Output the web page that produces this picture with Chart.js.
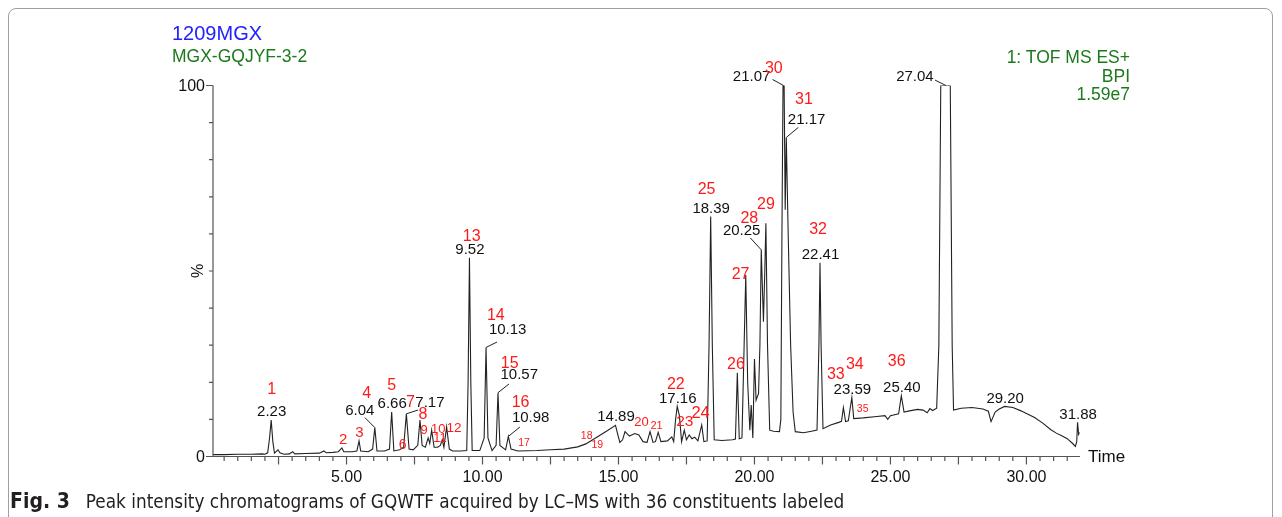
<!DOCTYPE html>
<html>
<head>
<meta charset="utf-8">
<script src="https://cdn.jsdelivr.net/npm/chart.js@4.4.1/dist/chart.umd.min.js"></script>
<style>
  html, body { margin: 0; padding: 0; background: #fff; }
  #wrap { position: relative; width: 1282px; height: 517px; overflow: hidden; font-family: "Liberation Sans", Arial, sans-serif; }
  #frame { position: absolute; left: 8px; top: 8px; width: 1265px; height: 540px; border: 1px solid #a0a0a0; border-radius: 8px; box-sizing: border-box; }
  #myChart { position: absolute; left: 0; top: 0; }
  .hd { position: absolute; line-height: 1; white-space: nowrap; }
  #caption { position: absolute; left: 10px; top: 490px; font-family: "DejaVu Sans Condensed", "Liberation Sans Narrow", sans-serif; line-height: 22px; color: #231f20; white-space: nowrap; }
  #caption b { font-size: 21px; font-weight: bold; }
  #caption span { font-size: 18.8px; margin-left: 16px; }
</style>
</head>
<body>
<div id="wrap">
  <div id="frame"></div>
  <canvas id="myChart" width="1282" height="517"></canvas>
  <div class="hd" style="left:172px;top:23px;font-size:20px;color:#2222ff;">1209MGX</div>
  <div class="hd" style="left:172px;top:48px;font-size:17.5px;color:#1c7a1c;">MGX-GQJYF-3-2</div>
  <div class="hd" style="right:152px;top:48.5px;font-size:17.5px;color:#1c7a1c;text-align:right;">1: TOF MS ES+</div>
  <div class="hd" style="right:152px;top:68px;font-size:17.5px;color:#1c7a1c;text-align:right;">BPI</div>
  <div class="hd" style="right:152px;top:86px;font-size:17.5px;color:#1c7a1c;text-align:right;">1.59e7</div>
  <div id="caption"><b>Fig. 3</b><span>Peak intensity chromatograms of GQWTF acquired by LC–MS with 36 constituents labeled</span></div>
</div>
<script>
// retention time (min) and base peak intensity (%)
var rt = [
  0.09, 0.5, 1.0, 1.5, 1.9, 2.0, 2.1, 2.17, 2.23, 2.29, 2.35, 2.48, 2.55, 2.7, 2.9,
  3.02, 3.1, 3.5, 4.0, 4.17, 4.25, 4.5, 4.7, 4.83, 4.9, 5.2, 5.38, 5.46, 5.52, 5.8,
  5.96, 6.04, 6.12, 6.4, 6.58, 6.66, 6.74, 6.95, 7.1, 7.2, 7.3, 7.45,
  7.62, 7.7, 7.78, 7.9, 8.0, 8.06, 8.13, 8.22, 8.35, 8.45, 8.52, 8.58, 8.68, 8.78, 8.9,
  9.2, 9.42, 9.47, 9.52, 9.57, 9.62, 9.9, 10.06, 10.13, 10.2, 10.35, 10.5, 10.57, 10.64, 10.85, 10.95, 11.05, 11.3,
  12.0, 12.5, 13.0, 13.5, 13.8, 14.2, 14.6, 14.89, 14.97, 15.05, 15.15, 15.24, 15.4, 15.6, 15.75, 15.9, 16.05,
  16.16, 16.27, 16.36, 16.46, 16.56, 16.8, 16.96, 17.03, 17.1, 17.16, 17.24, 17.32, 17.42, 17.5, 17.6, 17.7, 17.8, 17.92, 18.06, 18.14, 18.26,
  18.33, 18.39, 18.45, 18.52, 18.8, 19.2, 19.3, 19.37, 19.44, 19.54, 19.62, 19.68, 19.75, 19.83, 19.88, 19.94, 20.0, 20.06, 20.15, 20.2, 20.25, 20.33, 20.38, 20.42, 20.48, 20.56, 20.7,
  20.92, 20.97, 21.01, 21.05, 21.07, 21.09, 21.13, 21.17, 21.24, 21.33, 21.42, 21.5, 21.8, 22.1, 22.3, 22.37, 22.41, 22.45, 22.52,
  22.8, 23.1, 23.2, 23.27, 23.35, 23.45, 23.58, 23.65, 24.0, 24.5, 24.8, 24.9, 25.0, 25.3, 25.4, 25.5, 25.7, 26.0, 26.2, 26.35, 26.45, 26.55, 26.7,
  26.78, 26.85, 27.04, 27.2, 27.27, 27.32, 27.6, 28.0, 28.4, 28.6, 28.7, 28.85, 29.0, 29.2, 29.5, 29.8, 30.0, 30.3, 30.6, 30.9, 31.1, 31.3, 31.5, 31.7, 31.8, 31.85, 31.88, 31.92, 31.95
];
var bpi = [
  0.5, 0.5, 0.6, 0.6, 0.7, 0.6, 1.0, 5.0, 9.8, 4.0, 0.9, 1.8, 1.0, 0.6, 0.7,
  1.3, 0.7, 0.8, 0.9, 1.5, 1.0, 1.1, 1.3, 2.3, 1.3, 1.3, 1.5, 4.2, 1.5, 1.3,
  2.0, 7.8, 1.5, 1.5, 2.0, 12.0, 1.5, 1.8, 2.5, 11.5, 2.0, 1.8,
  3.0, 9.8, 3.0, 2.5, 5.0, 3.5, 7.1, 2.5, 2.5, 3.0, 4.5, 2.5, 8.0, 2.0, 1.5,
  1.5, 1.6, 20, 53.6, 20, 1.6, 1.6, 5, 29.4, 5, 1.6, 3, 17.2, 3, 1.8, 5.4, 2.0, 1.5,
  1.6, 1.8, 2.0, 2.6, 3.4, 5.2, 7.0, 8.4, 6.0, 3.8, 4.5, 6.7, 5.5, 6.2, 5.8, 4.0, 3.8,
  6.7, 3.8, 4.0, 6.5, 4.0, 4.2, 5.3, 4.0, 10, 13.5, 11, 4, 7.1, 4.5, 5.8, 4.8, 5.2, 4.2, 8.5, 4.0, 4.2,
  30, 64.7, 30, 4.5, 4.3, 4.5, 4.7, 22.6, 4.8, 5.0, 30, 48.9, 20, 7.1, 13.9, 5.0, 26.3, 15.2, 17, 30, 55.7, 36.3, 50, 62.9, 30, 7.1, 6.8,
  6.7, 10, 60, 100, 100, 100, 66.5, 86, 60, 30, 12, 6.7, 6.4, 6.8, 7.1, 30, 52.2, 30, 7.5,
  8.5, 9.2, 9.5, 13.2, 9.4, 9.6, 15.9, 10.2, 10.4, 10.8, 11.0, 10.0, 11.0, 11.5, 16.4, 12.0, 12.3, 12.7, 12.5, 11.8, 12.9, 12.4, 13.0,
  30, 100, 100, 100, 30, 12.5, 13, 13.2, 12.8, 12.2, 9.4, 12, 12.8, 13.5, 13.2, 12.3, 11.6, 10.5, 9.0, 7.2, 6.3, 5.6, 4.8, 3.5, 2.7, 4.0, 9.2, 6.0, 6.5
];

// peak retention times printed on the trace
var peakTimes = ['2.23', '6.04', '6.66', '7.17', '9.52', '10.13', '10.57', '10.98', '14.89', '17.16',
  '18.39', '20.25', '21.07', '21.17', '22.41', '23.59', '25.40', '27.04', '29.20', '31.88'];

// constituent numbers 1..36
var peakNumbers = [];
for (var n = 1; n <= 36; n++) peakNumbers.push(String(n));

var yTicks = [0, 100];
var xLabelTimes = [5, 10, 15, 20, 25, 30];

// ---- layout only (pixel offsets, where each label sits) ----
var timeLabelLayout = {
  '6.04': { dx: -15, dy: -17, lx: -10, ly: -10 },
  '7.17': { dx: 23.6, dy: -10.8, lx: 11.6, ly: -3.8 },
  '10.13': { dx: 21.6, dy: -17.4, lx: 11, ly: -5.4 },
  '10.57': { dx: 21.2, dy: -17.7, lx: 11, ly: -8.7 },
  '10.98': { dx: 22.3, dy: -18.2, lx: 11.6, ly: -9.5 },
  '20.25': { dx: -19.6, dy: -19, lx: -11, ly: -12 },
  '21.07': { dx: -32, dy: -9, lx: -11, ly: -6 },
  '21.17': { dx: 20.3, dy: -18, lx: 12, ly: -10 },
  '27.04': { dx: -31, dy: -9, lx: -11, ly: -5.5 }
};
// where each constituent number sits, in axis units [time, %, font px]
var numberSpots = [
  [2.25, 17.9, 16], [4.88, 4.6, 15], [5.47, 6.4, 15], [5.74, 16.9, 16], [6.66, 19.0, 16],
  [7.06, 3.1, 14], [7.35, 14.5, 16], [7.81, 11.2, 16], [7.85, 7.1, 13], [8.37, 7.3, 13],
  [8.44, 4.9, 13], [8.95, 7.6, 13.5], [9.60, 59.2, 16], [10.49, 38.1, 16], [11.0, 25.1, 16],
  [11.40, 14.5, 16], [11.53, 3.7, 10.5], [13.83, 5.5, 10.5], [14.22, 3.1, 10.5], [15.85, 9.1, 13],
  [16.40, 8.2, 11], [17.11, 19.5, 16], [17.44, 9.4, 15.5], [18.02, 11.6, 16.5], [18.24, 72.0, 16],
  [19.32, 24.9, 16], [19.49, 49.1, 16], [19.81, 64.2, 16], [20.42, 67.8, 16], [20.71, 104.6, 16],
  [21.82, 96.1, 16], [22.34, 61.2, 16], [22.99, 22.0, 16], [23.69, 24.7, 16], [23.98, 12.7, 10.5],
  [25.23, 25.6, 16]
];

function nearestPeak(t) {
  var best = -1, bestD = 1e9;
  for (var i = 1; i < rt.length - 1; i++) {
    if (bpi[i] >= bpi[i - 1] && bpi[i] >= bpi[i + 1]) {
      var d = Math.abs(rt[i] - t);
      if (d < bestD) { bestD = d; best = i; }
    }
  }
  return best;
}

var axesPlugin = {
  id: 'massLynxAxes',
  afterDatasetsDraw: function (chart) {
    var ctx = chart.ctx, x = chart.scales.x, y = chart.scales.y;
    var a = chart.chartArea;
    ctx.save();
    ctx.strokeStyle = '#555';
    ctx.lineWidth = 1.2;
    ctx.beginPath();
    ctx.moveTo(a.left, a.top); ctx.lineTo(a.left, a.bottom); ctx.lineTo(a.right, a.bottom);
    for (var v = 0; v <= 100; v += 10) {
      var py = y.getPixelForValue(v);
      ctx.moveTo(a.left - (v % 100 === 0 ? 7 : 4), py); ctx.lineTo(a.left, py);
    }
    for (var k = 1; k * 0.5 <= x.max; k++) {
      var px = x.getPixelForValue(k * 0.5);
      ctx.moveTo(px, a.bottom); ctx.lineTo(px, a.bottom + (k % 5 === 0 ? 8 : 4.5));
    }
    ctx.stroke();

    ctx.fillStyle = '#111';
    ctx.font = '16px "Liberation Sans", Arial, sans-serif';
    ctx.textAlign = 'right';
    ctx.textBaseline = 'middle';
    yTicks.forEach(function (v) {
      ctx.fillText(String(v), a.left - 8, y.getPixelForValue(v) + 1);
    });
    ctx.textAlign = 'center';
    xLabelTimes.forEach(function (t) {
      ctx.fillText(t.toFixed(2), x.getPixelForValue(t), a.bottom + 21);
    });
    ctx.font = '17px "Liberation Sans", Arial, sans-serif';
    ctx.textAlign = 'left';
    ctx.fillText('Time', a.right + 8, a.bottom + 1);

    ctx.save();
    ctx.translate(a.left - 14, y.getPixelForValue(50));
    ctx.rotate(-Math.PI / 2);
    ctx.textAlign = 'center';
    ctx.font = '16px "Liberation Sans", Arial, sans-serif';
    ctx.fillText('%', 0, 0);
    ctx.restore();

    // retention time labels
    ctx.font = '15px "Liberation Sans", Arial, sans-serif';
    ctx.textAlign = 'center';
    ctx.lineWidth = 1;
    ctx.strokeStyle = '#222';
    peakTimes.forEach(function (lbl) {
      var i = nearestPeak(parseFloat(lbl));
      var px = x.getPixelForValue(rt[i]), py = y.getPixelForValue(bpi[i]);
      var L = timeLabelLayout[lbl] || { dx: 0.5, dy: -8 };
      if (L.lx !== undefined) {
        ctx.beginPath();
        ctx.moveTo(px, py); ctx.lineTo(px + L.lx, py + L.ly);
        ctx.stroke();
      }
      ctx.fillText(lbl, px + L.dx, py + L.dy);
    });

    // constituent numbers
    ctx.fillStyle = '#ff1a1a';
    numberSpots.forEach(function (s, j) {
      ctx.font = s[2] + 'px "Liberation Sans", Arial, sans-serif';
      ctx.fillText(peakNumbers[j], x.getPixelForValue(s[0]), y.getPixelForValue(s[1]));
    });
    ctx.restore();
  }
};

window.onload = function () {
  var points = rt.map(function (t, i) { return { x: t, y: bpi[i] }; });
  var config = {
    type: 'line',
    data: {
      datasets: [{
        data: points,
        borderColor: '#222',
        borderWidth: 1.1,
        pointRadius: 0,
        tension: 0,
        fill: false
      }]
    },
    options: {
      responsive: false,
      animation: false,
      devicePixelRatio: 1,
      events: [],
      layout: { padding: { left: 213, right: 202, top: 85.5, bottom: 60.5 } },
      scales: {
        x: { type: 'linear', min: 0.09, max: 31.97, display: false },
        y: { min: 0, max: 100, display: false }
      },
      plugins: { legend: { display: false }, tooltip: { enabled: false } }
    },
    plugins: [axesPlugin]
  };
  var myChart = new Chart(document.getElementById('myChart'), config);
};
</script>
</body>
</html>
